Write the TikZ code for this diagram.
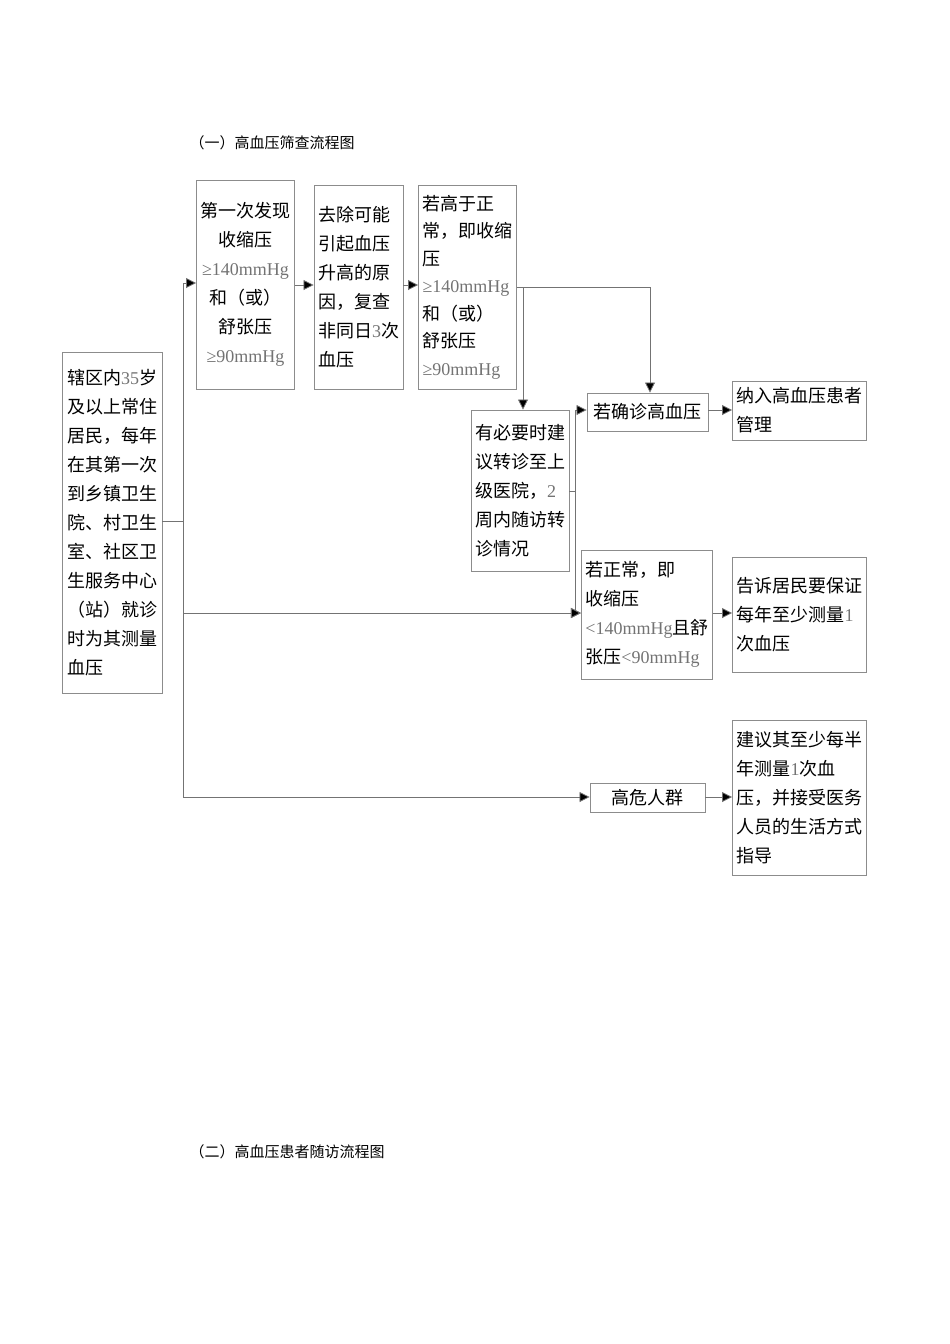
\documentclass[tikz,border=0pt]{standalone}
\usepackage{fontspec}
\setmainfont{Noto Sans CJK SC}
\newfontfamily\numfont{Liberation Serif}
\usetikzlibrary{arrows.meta}
\newcommand{\nm}[1]{{\numfont\color{black!55}#1}}
\tikzset{
  box/.style={draw=black!45, line width=0.9pt, inner sep=4pt, font=\fontsize{18}{29}\selectfont, align=left},
  ln/.style={draw=black!55, line width=0.8pt},
  arr/.style={ln, -{Triangle[length=10pt,width=10pt,fill=black]}},
}
\begin{document}
\begin{tikzpicture}[x=1pt,y=-1pt]
\useasboundingbox (0,0) rectangle (950,1344);
\node[anchor=west, font=\fontsize{15}{18}\selectfont] (t1) at (186,143) {（一）高血压筛查流程图};
\node[anchor=west, font=\fontsize{15}{18}\selectfont] (t2) at (186,1152) {（二）高血压患者随访流程图};

\node[box, minimum width=100, minimum height=341] (L) at (112,522.5) {辖区内\nm{35}岁\\及以上常住\\居民，每年\\在其第一次\\到乡镇卫生\\院、村卫生\\室、社区卫\\生服务中心\\（站）就诊\\时为其测量\\血压};
\node[box, minimum width=93, minimum height=209, align=center] (b1) at (245.5,284.5) {第一次发现\\收缩压\\\nm{≥140mmHg}\\和（或）\\舒张压\\\nm{≥90mmHg}};
\node[box, minimum width=89, minimum height=204] (b2) at (358.5,287) {去除可能\\引起血压\\升高的原\\因，复查\\非同日\nm{3}次\\血压};
\node[box, minimum width=95, minimum height=204, font=\fontsize{18}{27.5}\selectfont] (b3) at (467.5,287) {若高于正\\常，即收缩\\压\\\nm{≥140mmHg}\\和（或）\\舒张压\\\nm{≥90mmHg}};
\node[box, minimum width=94, minimum height=161] (b4) at (520,490.5) {有必要时建\\议转诊至上\\级医院，\nm{2}\\周内随访转\\诊情况};
\node[box, minimum width=121, minimum height=38] (b5) at (647.5,412) {若确诊高血压};
\node[box, minimum width=127, minimum height=59] (b6) at (799.5,410.5) {纳入高血压患者\\管理};
\node[box, minimum width=114, minimum height=129] (b7) at (647,614.5) {若正常，即\\收缩压\\\nm{<140mmHg}且舒\\张压\nm{<90mmHg}};
\node[box, minimum width=127, minimum height=115] (b8) at (799.5,614.5) {告诉居民要保证\\每年至少测量\nm{1}\\次血压};
\node[box, minimum width=115, minimum height=29] (b9) at (647.5,797.5) {高危人群};
\node[box, minimum width=127, minimum height=155] (b10) at (799.5,797.5) {建议其至少每半\\年测量\nm{1}次血\\压，并接受医务\\人员的生活方式\\指导};

\coordinate (j) at (183,521);
\coordinate (jt) at (183,283);
\coordinate (jb) at (183,797);
\draw[ln] (L.east |- j) -- (j);
\draw[ln] (jt) -- (jb);
\draw[arr] (jt) -- (b1.west |- jt);
\draw[arr] (183,613) -- (b7.west |- 0,613);
\draw[arr] (jb) -- (b9.west |- jb);
\draw[arr] (b1.east |- 0,285) -- (b2.west |- 0,285);
\draw[arr] (b2.east |- 0,285) -- (b3.west |- 0,285);
\coordinate (k) at (650,287);
\draw[ln] (b3.east |- k) -- (k);
\draw[arr] (k) -- (b5.north -| k);
\draw[arr] (523,287) -- (b4.north -| 523,0);
\coordinate (m) at (575,491);
\draw[ln] (b4.east |- m) -- (m);
\draw[ln] (575,410) -- (575,613);
\draw[arr] (575,410) -- (b5.west |- 0,410);
\draw[arr] (575,613) -- (b7.west |- 0,613);
\draw[arr] (b5.east |- 0,410) -- (b6.west |- 0,410);
\draw[arr] (b7.east |- 0,613) -- (b8.west |- 0,613);
\draw[arr] (b9.east |- 0,797) -- (b10.west |- 0,797);
\end{tikzpicture}
\end{document}
